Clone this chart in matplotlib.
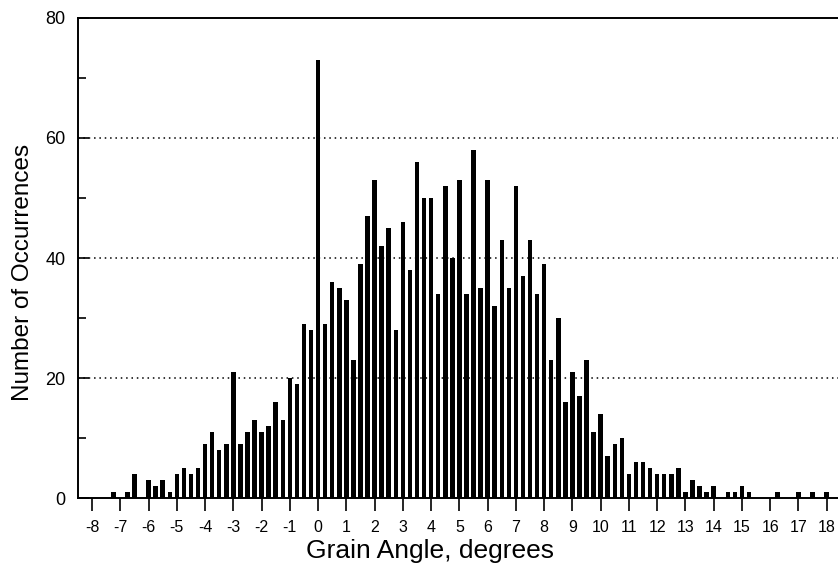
import numpy as np
import matplotlib
matplotlib.use("Agg")
import matplotlib.pyplot as plt
from matplotlib.ticker import MultipleLocator

plt.rcParams['font.family'] = ['Liberation Sans', 'DejaVu Sans']
plt.rcParams['axes.unicode_minus'] = False

# histogram of grain angles, bins of 0.25 degree starting at -7.25
bin_start = -7.25
bin_step = 0.25
counts = [1, 0, 1, 4, 0, 3, 2, 3, 1, 4,
          5, 4, 5, 9, 11, 8, 9, 21, 9, 11,
          13, 11, 12, 16, 13, 20, 19, 29, 28, 73,
          29, 36, 35, 33, 23, 39, 47, 53, 42, 45,
          28, 46, 38, 56, 50, 50, 34, 52, 40, 53,
          34, 58, 35, 53, 32, 43, 35, 52, 37, 43,
          34, 39, 23, 30, 16, 21, 17, 23, 11, 14,
          7, 9, 10, 4, 6, 6, 5, 4, 4, 4,
          5, 1, 3, 2, 1, 2, 0, 1, 1, 2,
          1, 0, 0, 0, 1, 0, 0, 1, 0, 1,
          0, 1]
angles = bin_start + bin_step * np.arange(len(counts))

fig = plt.figure(figsize=(8.38, 5.76), dpi=100)
ax = fig.add_axes([0.093, 0.135, 0.907, 0.834])

ax.bar(angles, counts, width=0.16, color='black', zorder=3)

ax.set_xlim(-8.5, 18.4)
ax.set_ylim(0, 80)

# x axis: ticks every degree, pointing down
ax.xaxis.set_major_locator(MultipleLocator(1))
ax.tick_params(axis='x', direction='out', length=9, width=1.2, labelsize=11.5, pad=6.5)

# y axis: labelled every 20, small inward ticks every 10
ax.yaxis.set_major_locator(MultipleLocator(20))
ax.yaxis.set_minor_locator(MultipleLocator(10))
ax.tick_params(axis='y', which='major', direction='in', length=8, width=1.2, labelsize=13, pad=9)
ax.tick_params(axis='y', which='minor', direction='in', length=6, width=1.2)

for v in [20, 40, 60]:
    ax.axhline(v, color='black', linestyle=(0, (1, 2.5)), linewidth=1.1, zorder=1)

ax.spines['right'].set_visible(False)
for s in ['left', 'top', 'bottom']:
    ax.spines[s].set_linewidth(1.4)

ax.set_xlabel('Grain Angle, degrees', fontsize=19)
ax.set_ylabel('Number of Occurrences', fontsize=17.5)
ax.xaxis.set_label_coords(0.463, -0.085)
ax.yaxis.set_label_coords(-0.058, 0.47)

fig.savefig('out.png', dpi=100)
